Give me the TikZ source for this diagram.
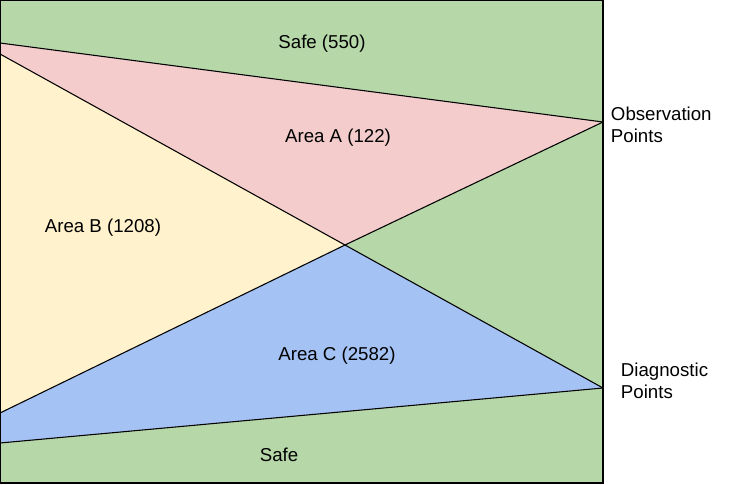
\documentclass[tikz,border=0pt]{standalone}
\usepackage{fontspec}
\setmainfont{Liberation Sans}
\usepackage{tikz}
\definecolor{safegreen}{HTML}{B6D7A8}
\definecolor{areapink}{HTML}{F4CCCC}
\definecolor{areayellow}{HTML}{FFF2CC}
\definecolor{areablue}{HTML}{A4C2F4}

\begin{document}
\begin{tikzpicture}[x=0.75pt,y=-0.75pt,line width=0.8pt,font=\fontsize{14}{16.5}\selectfont]
		\useasboundingbox (0,0) rectangle (739,485);
		% corner and crossing points
		\coordinate (tl) at (0,0);
		\coordinate (br) at (603,483);
		\coordinate (a1) at (0,43);
		\coordinate (a2) at (0,54);
		\coordinate (c1) at (0,413);
		\coordinate (c2) at (0,443);
		\coordinate (x) at (345,245);
		\coordinate (obs) at (603,122);
		\coordinate (diag) at (603,388);
		\fill[safegreen] (tl) rectangle (br);
		\fill[areapink] (a1) -- (obs) -- (x) -- (a2) -- cycle;
		\fill[areayellow] (a2) -- (x) -- (c1) -- cycle;
		\fill[areablue] (c1) -- (x) -- (diag) -- (c2) -- cycle;
		\draw (a1) -- (obs);
		\draw (a2) -- (x) -- (diag);
		\draw (c1) -- (x) -- (obs);
		\draw (c2) -- (diag);
		\draw (tl) rectangle (br);
		\node (safe1) at (322,44) {Safe (550)};
		\node (areaA) at (338,138) {Area A (122)};
		\node (areaB) at (103,228) {Area B (1208)};
		\node (areaC) at (337,356) {Area C (2582)};
		\node (safe2) at (279,455) {Safe};
		\node[right,align=left] (obsl) at (606,125) {Observation\\Points};
		\node[right,align=left] (diagl) at (616,381) {Diagnostic\\Points};
	\end{tikzpicture}
\end{document}
